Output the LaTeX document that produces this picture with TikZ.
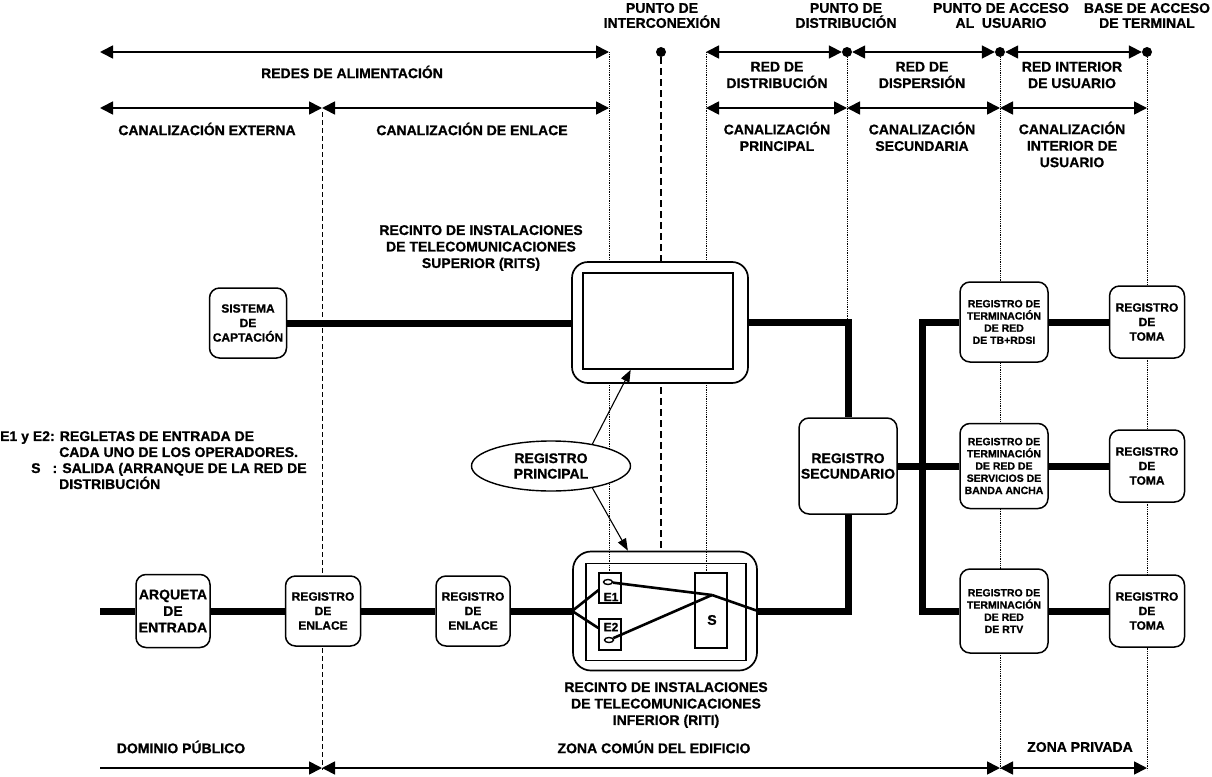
\documentclass[tikz,border=0pt]{standalone}
\usepackage{fontspec}
\setmainfont{Liberation Sans}[BoldFeatures={FakeBold=0.9}]
\usetikzlibrary{arrows.meta,shapes.geometric,calc}
\begin{document}
\begin{tikzpicture}[x=1pt,y=-1pt,
  lbl/.style={font=\bfseries\fontsize{14}{16.5}\selectfont, align=center, inner sep=0},
  toplbl/.style={font=\bfseries\fontsize{14}{15}\selectfont, align=center, inner sep=0},
  bx/.style={draw, line width=1.5pt, rounded corners=10pt, fill=white, align=center, inner sep=0},
  f12/.style={font=\bfseries\fontsize{12}{14.5}\selectfont},
  f14/.style={font=\bfseries\fontsize{14}{16.5}\selectfont},
  frt/.style={font=\bfseries\fontsize{10.5}{12.2}\selectfont},
  thk/.style={line width=7pt},
  inner/.style={line width=2.6pt},
  dimarrow/.style={line width=1.7pt, {Triangle[length=13pt,width=13pt]}-{Triangle[length=13pt,width=13pt]}},
  dimright/.style={line width=1.7pt, -{Triangle[length=13pt,width=13pt]}},
  ptr/.style={line width=1.1pt, -{Triangle[length=12pt,width=9pt]}},
  guide/.style={line width=0.8pt, densely dotted},
  dashguide/.style={line width=0.8pt, dash pattern=on 5pt off 3pt},
  thickdash/.style={line width=1.6pt, dash pattern=on 7pt off 4pt},
  pdot/.style={circle, fill, inner sep=0, minimum size=10pt}
]
\useasboundingbox (0,0) rectangle (1212,776);

% ---------- guide coordinates ----------
\coordinate (L1a) at (100,52);
\coordinate (gE) at (609,52);
\coordinate (gS) at (706,52);
\coordinate (gX) at (322,112);
\coordinate (gXb) at (322,770);
\node[pdot] (dI) at (661,52) {};
\node[pdot] (dD) at (847,52) {};
\node[pdot] (dA) at (1000,52) {};
\node[pdot] (dB) at (1147,52) {};

\coordinate (L2a) at (100,108);
\coordinate (L2b) at (322,108);
\coordinate (L2c) at (609,108);
\coordinate (R2a) at (706,108);
\coordinate (R2b) at (847,108);
\coordinate (R2c) at (1000,108);
\coordinate (R2d) at (1147,108);

\coordinate (B0) at (100,768);
\coordinate (B1) at (322,768);
\coordinate (B2) at (1000,768);
\coordinate (B3) at (1147,768);

% ---------- vertical guides (behind) ----------
\draw[dashguide] (gX) -- (gXb);
\draw[guide] (gE) -- ($(gE)+(0,521)$);
\draw[guide] (gS) -- ($(gS)+(0,521)$);
\draw[thickdash] (dI.south) -- ($(dI)+(0,499)$);
\draw[guide] (dD.south) -- ($(dD)+(0,269)$);
\draw[guide] (dA.south) -- ($(dA)+(0,718)$);
\draw[guide] (dB.south) -- ($(dB)+(0,718)$);

% ---------- dimension arrows ----------
\draw[dimarrow] (L1a) -- (gE);
\draw[dimarrow] (gS) -- (dD);
\draw[dimarrow] (dD) -- (dA);
\draw[dimarrow] (dA) -- (dB);

\draw[dimarrow] (L2a) -- (L2b);
\draw[dimarrow] (L2b) -- (L2c);
\draw[dimarrow] (R2a) -- (R2b);
\draw[dimarrow] (R2b) -- (R2c);
\draw[dimarrow] (R2c) -- (R2d);

\draw[dimright] (B0) -- (B1);
\draw[dimarrow] (B1) -- (B2);
\draw[dimarrow] (B2) -- (B3);

% ---------- labels ----------
\node[toplbl] (tI) at (662,15.5) {PUNTO DE\\INTERCONEXIÓN};
\node[toplbl] (tD) at (846,15.5) {PUNTO DE\\DISTRIBUCIÓN};
\node[toplbl] (tA) at (1001,15.5) {PUNTO DE ACCESO\\AL\hspace{0.55em}USUARIO};
\node[toplbl] (tB) at (1147,15.5) {BASE DE ACCESO\\DE TERMINAL};

\node[lbl] (redali) at (352,72) {REDES DE ALIMENTACIÓN};
\node[lbl] (reddist) at (777,75) {RED DE\\DISTRIBUCIÓN};
\node[lbl] (reddisp) at (922,75) {RED DE\\DISPERSIÓN};
\node[lbl] (redint) at (1072,75) {RED INTERIOR\\DE USUARIO};

\node[lbl] (canext) at (207,129) {CANALIZACIÓN EXTERNA};
\node[lbl] (canenl) at (472,129) {CANALIZACIÓN DE ENLACE};
\node[lbl] (canpri) at (777,136.5) {CANALIZACIÓN\\PRINCIPAL};
\node[lbl] (cansec) at (922,136.5) {CANALIZACIÓN\\SECUNDARIA};
\node[lbl] (canint) at (1072,144.5) {CANALIZACIÓN\\INTERIOR DE\\USUARIO};

\node[lbl] (ritslbl) at (481,248) {RECINTO DE INSTALACIONES\\DE TELECOMUNICACIONES\\SUPERIOR (RITS)};
\node[lbl] (ritilbl) at (666,705) {RECINTO DE INSTALACIONES\\DE TELECOMUNICACIONES\\INFERIOR (RITI)};

\node[font=\bfseries\fontsize{14}{16}\selectfont, align=left, inner sep=0, anchor=north west] (legend) at (0,431)
  {E1 y E2: REGLETAS DE ENTRADA DE\\
   \hspace*{59pt}CADA UNO DE LOS OPERADORES.\\
   \hspace*{31pt}S\hspace*{12pt}: SALIDA (ARRANQUE DE LA RED DE\\
   \hspace*{59pt}DISTRIBUCIÓN};

\node[lbl] (dompub) at (181,747) {DOMINIO PÚBLICO};
\node[lbl] (zonacom) at (654,747) {ZONA COMÚN DEL EDIFICIO};
\node[lbl] (zonapri) at (1080,747) {ZONA PRIVADA};

% ---------- boxes ----------
\node[bx, f12, minimum width=77pt, minimum height=70pt] (capt) at (248,323) {SISTEMA\\DE\\CAPTACIÓN};

\node[draw, line width=1.7pt, rounded corners=16pt, fill=white, minimum width=176pt, minimum height=121pt, inner sep=0] (rits) at (660,322.5) {};
\node[draw, line width=1.7pt, minimum width=150pt, minimum height=96pt, inner sep=0] (ritsin) at (658,321) {};

\node[draw, line width=1.7pt, rounded corners=18pt, fill=white, minimum width=184pt, minimum height=119pt, inner sep=0] (riti) at (665,611) {};
\node[draw, line width=1.7pt, minimum width=160pt, minimum height=97pt, inner sep=0] (ritiin) at (666,612) {};

\node[draw, line width=1.3pt, fill=white, minimum width=22pt, minimum height=30pt, inner sep=0] (E1) at (610,588) {};
\node[f12, inner sep=0] (E1t) at (611,597) {E1};
\node[draw, ellipse, line width=1.4pt, minimum width=9pt, minimum height=5pt, inner sep=0] (E1h) at (608,582) {};

\node[draw, line width=1.3pt, fill=white, minimum width=22pt, minimum height=31pt, inner sep=0] (E2) at (610,634.5) {};
\node[f12, inner sep=0] (E2t) at (611,627) {E2};
\node[draw, ellipse, line width=1.4pt, minimum width=9pt, minimum height=5pt, inner sep=0] (E2h) at (609,640) {};

\node[draw, line width=1.3pt, fill=white, minimum width=32pt, minimum height=75pt, inner sep=0] (S) at (711,610.5) {};
\node[f14, inner sep=0] (St) at (712,620) {S};
\coordinate (sp) at (712,595);

\node[draw, ellipse, line width=1.4pt, fill=white, minimum width=159pt, minimum height=50pt, inner sep=0, align=center, font=\bfseries\fontsize{14}{15.5}\selectfont] (ell) at (551,466) {REGISTRO\\PRINCIPAL};

\node[bx, minimum width=74pt, minimum height=73pt, font=\bfseries\fontsize{14}{16.5}\selectfont] (arq) at (173,611) {ARQUETA\\DE\\ENTRADA};
\node[bx, f12, minimum width=75pt, minimum height=70pt] (enl1) at (323,611) {REGISTRO\\DE\\ENLACE};
\node[bx, f12, minimum width=74pt, minimum height=70pt] (enl2) at (473,611) {REGISTRO\\DE\\ENLACE};

\node[bx, minimum width=98pt, minimum height=96pt, font=\bfseries\fontsize{14}{15.5}\selectfont] (sec) at (848,466) {REGISTRO\\SECUNDARIO};

\node[bx, frt, minimum width=88pt, minimum height=80pt] (rt1) at (1004,322) {REGISTRO DE\\TERMINACIÓN\\DE RED\\DE TB+RDSI};
\node[bx, frt, minimum width=88pt, minimum height=85pt] (rt2) at (1004,466) {REGISTRO DE\\TERMINACIÓN\\DE RED DE\\SERVICIOS DE\\BANDA ANCHA};
\node[bx, frt, minimum width=88pt, minimum height=84pt] (rt3) at (1004,611) {REGISTRO DE\\TERMINACIÓN\\DE RED\\DE RTV};

\node[bx, f12, minimum width=75pt, minimum height=72pt] (toma1) at (1147,322) {REGISTRO\\DE\\TOMA};
\node[bx, f12, minimum width=75pt, minimum height=72pt] (toma2) at (1147,466) {REGISTRO\\DE\\TOMA};
\node[bx, f12, minimum width=75pt, minimum height=72pt] (toma3) at (1147,611) {REGISTRO\\DE\\TOMA};

% ---------- guides drawn over RITI ----------
\draw[guide] (gE |- riti.north) -- (gE |- E1.north);
\draw[guide] (gS |- riti.north) -- (gS |- S.north);

% ---------- thick cable connectors ----------
\coordinate (startL) at (100,611);
\coordinate (bus) at (922,466);
\draw[thk] (startL) -- (arq.west);
\draw[thk] (arq.east) -- (enl1.west);
\draw[thk] (enl1.east) -- (enl2.west);
\draw[thk] (enl2.east) -- (riti.west);
\draw[thk] (capt.east) -- (rits.west |- capt.east);
\draw[thk] (rits.east) -| (sec.north);
\draw[thk] (sec.south) |- (riti.east);
\draw[thk] (sec.east) -- (rt2.west);
\draw[thk] (rt1.west) -| (bus) |- (rt3.west);
\draw[thk] (rt1.east) -- (toma1.west);
\draw[thk] (rt2.east) -- (toma2.west);
\draw[thk] (rt3.east) -- (toma3.west);

% ---------- wiring inside RITI ----------
\draw[inner] (riti.west) -- ($(E1.north west)!0.57!(E1.south west)$);
\draw[inner] (riti.west) -- ($(E2.north west)!0.3!(E2.south west)$);
\draw[inner] (E1h) -- (sp);
\draw[inner] (E2h) -- (sp);
\draw[inner] (sp) -- (riti.east);

% ---------- registro principal pointers ----------
\draw[ptr] (ell.28) -- ($(ritsin.south west)!0.32!(ritsin.south east)$);
\draw[ptr] (ell.-28) -- ($(riti.north west)!0.3!(riti.north east)$);
\end{tikzpicture}
\end{document}
